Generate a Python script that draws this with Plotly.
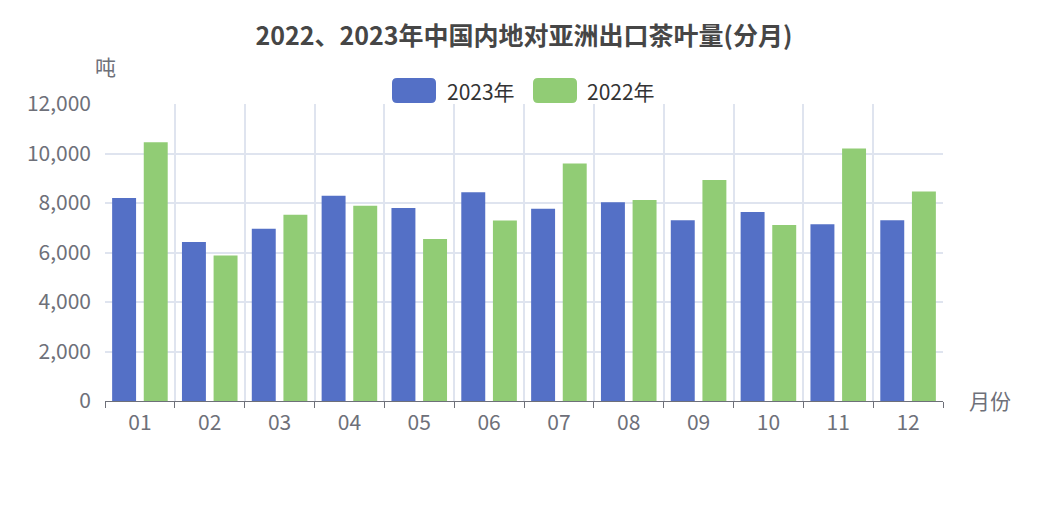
import plotly.graph_objects as go

months = ["01", "02", "03", "04", "05", "06", "07", "08", "09", "10", "11", "12"]
v2023 = [8200, 6420, 6960, 8290, 7800, 8430, 7770, 8030, 7300, 7640, 7140, 7300]
v2022 = [10450, 5880, 7530, 7890, 6550, 7290, 9600, 8120, 8930, 7110, 10200, 8460]
series_names = ["2023年", "2022年"]
colors = ["#5470c6", "#91cc75"]
title_text = "2022、2023年中国内地对亚洲出口茶叶量(分月)"
y_name = "吨"
x_name = "月份"

FONT = "Noto Sans CJK SC, Noto Sans, sans-serif"
W, H = 1047, 523
L, R, T, B = 105, 943, 104, 401

def px(x):
    return (x - L) / (R - L)

def py(y):
    return (B - y) / (B - T)

fig = go.Figure()
for name, vals, c in zip(series_names, [v2023, v2022], colors):
    fig.add_trace(go.Bar(x=months, y=vals, name=name, marker=dict(color=c, line=dict(width=0)),
                         showlegend=False))

fig.update_layout(
    width=W, height=H,
    margin=dict(l=L, r=W - R, t=T, b=H - B),
    paper_bgcolor="white", plot_bgcolor="white",
    barmode="group", bargap=0.094, bargroupgap=0.243,
    font=dict(family=FONT, size=21, color="#6e7079"),
    title=dict(text="<b>" + title_text + "</b>", x=0.5, xref="paper", xanchor="center",
               y=1 - 36 / H, yref="container", yanchor="middle",
               font=dict(family=FONT, size=25, color="#464646")),
    xaxis=dict(type="category", tickson="boundaries", ticks="outside", ticklen=6,
               tickcolor="#6e7079", showline=True, linecolor="#6e7079", linewidth=1.3,
               showgrid=True, gridcolor="#dfe4ef", gridwidth=1.7,
               ticklabelstandoff=3,
               tickfont=dict(size=21, color="#6e7079"), zeroline=False, fixedrange=True),
    yaxis=dict(range=[0, 12000], dtick=2000, tickformat=",", showgrid=True,
               gridcolor="#dfe4ef", gridwidth=1.7, zeroline=False, showline=False,
               ticks="", ticklabelstandoff=13,
               tickfont=dict(size=21, color="#6e7079")),
)

# axis names
fig.add_annotation(text=y_name, xref="paper", yref="paper", x=px(105), y=py(66),
                   xanchor="center", yanchor="middle", showarrow=False,
                   font=dict(family=FONT, size=21, color="#6e7079"))
fig.add_annotation(text=x_name, xref="paper", yref="paper", x=px(967), y=py(400),
                   xanchor="left", yanchor="middle", showarrow=False,
                   font=dict(family=FONT, size=21, color="#6e7079"))

# custom legend with rounded rects
def rrect(x0, y0, x1, y1, r):
    X0, X1 = px(x0), px(x1)
    Y0, Y1 = py(y0), py(y1)
    rx = r / (R - L)
    ry = r / (B - T)
    return (f"M {X0+rx},{Y0} L {X1-rx},{Y0} Q {X1},{Y0} {X1},{Y0-ry} "
            f"L {X1},{Y1+ry} Q {X1},{Y1} {X1-rx},{Y1} L {X0+rx},{Y1} "
            f"Q {X0},{Y1} {X0},{Y1+ry} L {X0},{Y0-ry} Q {X0},{Y0} {X0+rx},{Y0} Z")

legend_items = [(392, 445), (533, 585)]
for (rx0, tx), name, c in zip(legend_items, series_names, colors):
    fig.add_shape(type="path", xref="paper", yref="paper", path=rrect(rx0, 78, rx0 + 44, 103, 5),
                  fillcolor=c, line=dict(width=0))
    fig.add_annotation(text=name, xref="paper", yref="paper", x=px(tx), y=py(90.5),
                       xanchor="left", yanchor="middle", showarrow=False,
                       font=dict(family=FONT, size=21, color="#333333"))

fig.write_html("out.html")
